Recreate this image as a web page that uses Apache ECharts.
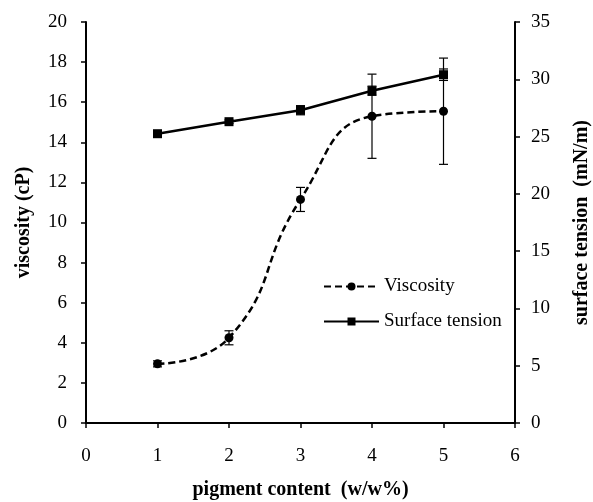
<!DOCTYPE html>
<html style="height: 100%">
<head>
<meta http-equiv="Content-Type" content="text/html; charset=UTF-8">
<script src="https://cdn.jsdelivr.net/npm/echarts@6/dist/echarts.min.js"></script>
</head>
<body style="height: 100%; margin: 0; background: #fff">
<div id="container" style="width: 593px; height: 502px"></div>
<script type="text/javascript">
// pigment content (w/w%)
var content = [1, 2, 3, 4, 5];
// viscosity (cP) and its error
var viscosity = [2.95, 4.25, 11.15, 15.3, 15.55];
var viscosityErr = [0.15, 0.35, 0.6, 2.1, 2.65];
// surface tension (mN/m) and its error
var tension = [25.25, 26.3, 27.3, 29.0, 30.4];
var tensionErr = [0.15, 0.15, 0.4, 0.4, 0.5];

var font = 'Liberation Serif';

function pairs(xs, ys) {
	var out = [];
	for (var i = 0; i < xs.length; i++) out.push([xs[i], ys[i]]);
	return out;
}
function bars(xs, ys, es) {
	var out = [];
	for (var i = 0; i < xs.length; i++) out.push([xs[i], ys[i] - es[i], ys[i] + es[i]]);
	return out;
}
function errorBar(params, api) {
	var lo = api.coord([api.value(0), api.value(1)]);
	var hi = api.coord([api.value(0), api.value(2)]);
	var w = 4.5;
	var st = { stroke: '#000', lineWidth: 1.2 };
	return {
		type: 'group',
		children: [
			{ type: 'line', shape: { x1: lo[0], y1: lo[1], x2: hi[0], y2: hi[1] }, style: st },
			{ type: 'line', shape: { x1: lo[0] - w, y1: lo[1], x2: lo[0] + w, y2: lo[1] }, style: st },
			{ type: 'line', shape: { x1: hi[0] - w, y1: hi[1], x2: hi[0] + w, y2: hi[1] }, style: st }
		]
	};
}

var myChart = echarts.init(document.getElementById('container'));
var option = {
	animation: false,
	textStyle: { fontFamily: font, color: '#000' },
	grid: { left: 86, right: 78, top: 22, bottom: 79, containLabel: false, outerBoundsMode: 'none' },
	legend: {
		orient: 'vertical',
		left: 318,
		top: 272,
		itemWidth: 55,
		itemHeight: 10,
		itemGap: 16,
		textStyle: { fontFamily: font, fontSize: 19, color: '#000' },
		data: ['Viscosity', 'Surface tension']
	},
	xAxis: {
		type: 'value',
		min: 0, max: 6, interval: 1,
		name: 'pigment content  (w/w%)',
		nameLocation: 'middle',
		nameGap: 57,
		nameTextStyle: { fontFamily: font, fontSize: 20, fontWeight: 'bold', color: '#000' },
		axisLine: { lineStyle: { color: '#000', width: 2 } },
		axisTick: { show: true, length: 5, lineStyle: { color: '#000', width: 1.5 } },
		axisLabel: { margin: 24, fontFamily: font, fontSize: 19, color: '#000' },
		splitLine: { show: false }
	},
	yAxis: [{
		type: 'value',
		min: 0, max: 20, interval: 2,
		name: 'viscosity (cP)',
		nameLocation: 'middle',
		nameRotate: 90,
		nameGap: 52,
		nameTextStyle: { fontFamily: font, fontSize: 20, fontWeight: 'bold', color: '#000' },
		axisLine: { show: true, lineStyle: { color: '#000', width: 2 } },
		axisTick: { show: true, length: 5, lineStyle: { color: '#000', width: 1.5 } },
		axisLabel: { margin: 19, fontFamily: font, fontSize: 19, color: '#000' },
		splitLine: { show: false }
	}, {
		type: 'value',
		min: 0, max: 35, interval: 5,
		position: 'right',
		name: 'surface tension  (mN/m)',
		nameLocation: 'middle',
		nameRotate: 90,
		nameGap: 57,
		nameTextStyle: { fontFamily: font, fontSize: 20, fontWeight: 'bold', color: '#000' },
		axisLine: { show: true, lineStyle: { color: '#000', width: 2 } },
		axisTick: { show: true, length: 5, lineStyle: { color: '#000', width: 1.5 } },
		axisLabel: { margin: 16, fontFamily: font, fontSize: 19, color: '#000' },
		splitLine: { show: false }
	}],
	series: [{
		name: 'Viscosity',
		type: 'line',
		yAxisIndex: 0,
		smooth: 0.5,
		symbol: 'circle',
		symbolSize: 9,
		itemStyle: { color: '#000' },
		lineStyle: { color: '#000', width: 2.5, type: [7, 4] },
		data: pairs(content, viscosity),
		z: 3
	}, {
		name: 'Surface tension',
		type: 'line',
		yAxisIndex: 1,
		symbol: 'rect',
		symbolSize: 9,
		itemStyle: { color: '#000' },
		lineStyle: { color: '#000', width: 2.5 },
		data: pairs(content, tension),
		z: 3
	}, {
		type: 'custom',
		yAxisIndex: 0,
		renderItem: errorBar,
		data: bars(content, viscosity, viscosityErr),
		z: 2
	}, {
		type: 'custom',
		yAxisIndex: 1,
		renderItem: errorBar,
		data: bars(content, tension, tensionErr),
		z: 2
	}]
};
myChart.setOption(option);
</script>
</body>
</html>
